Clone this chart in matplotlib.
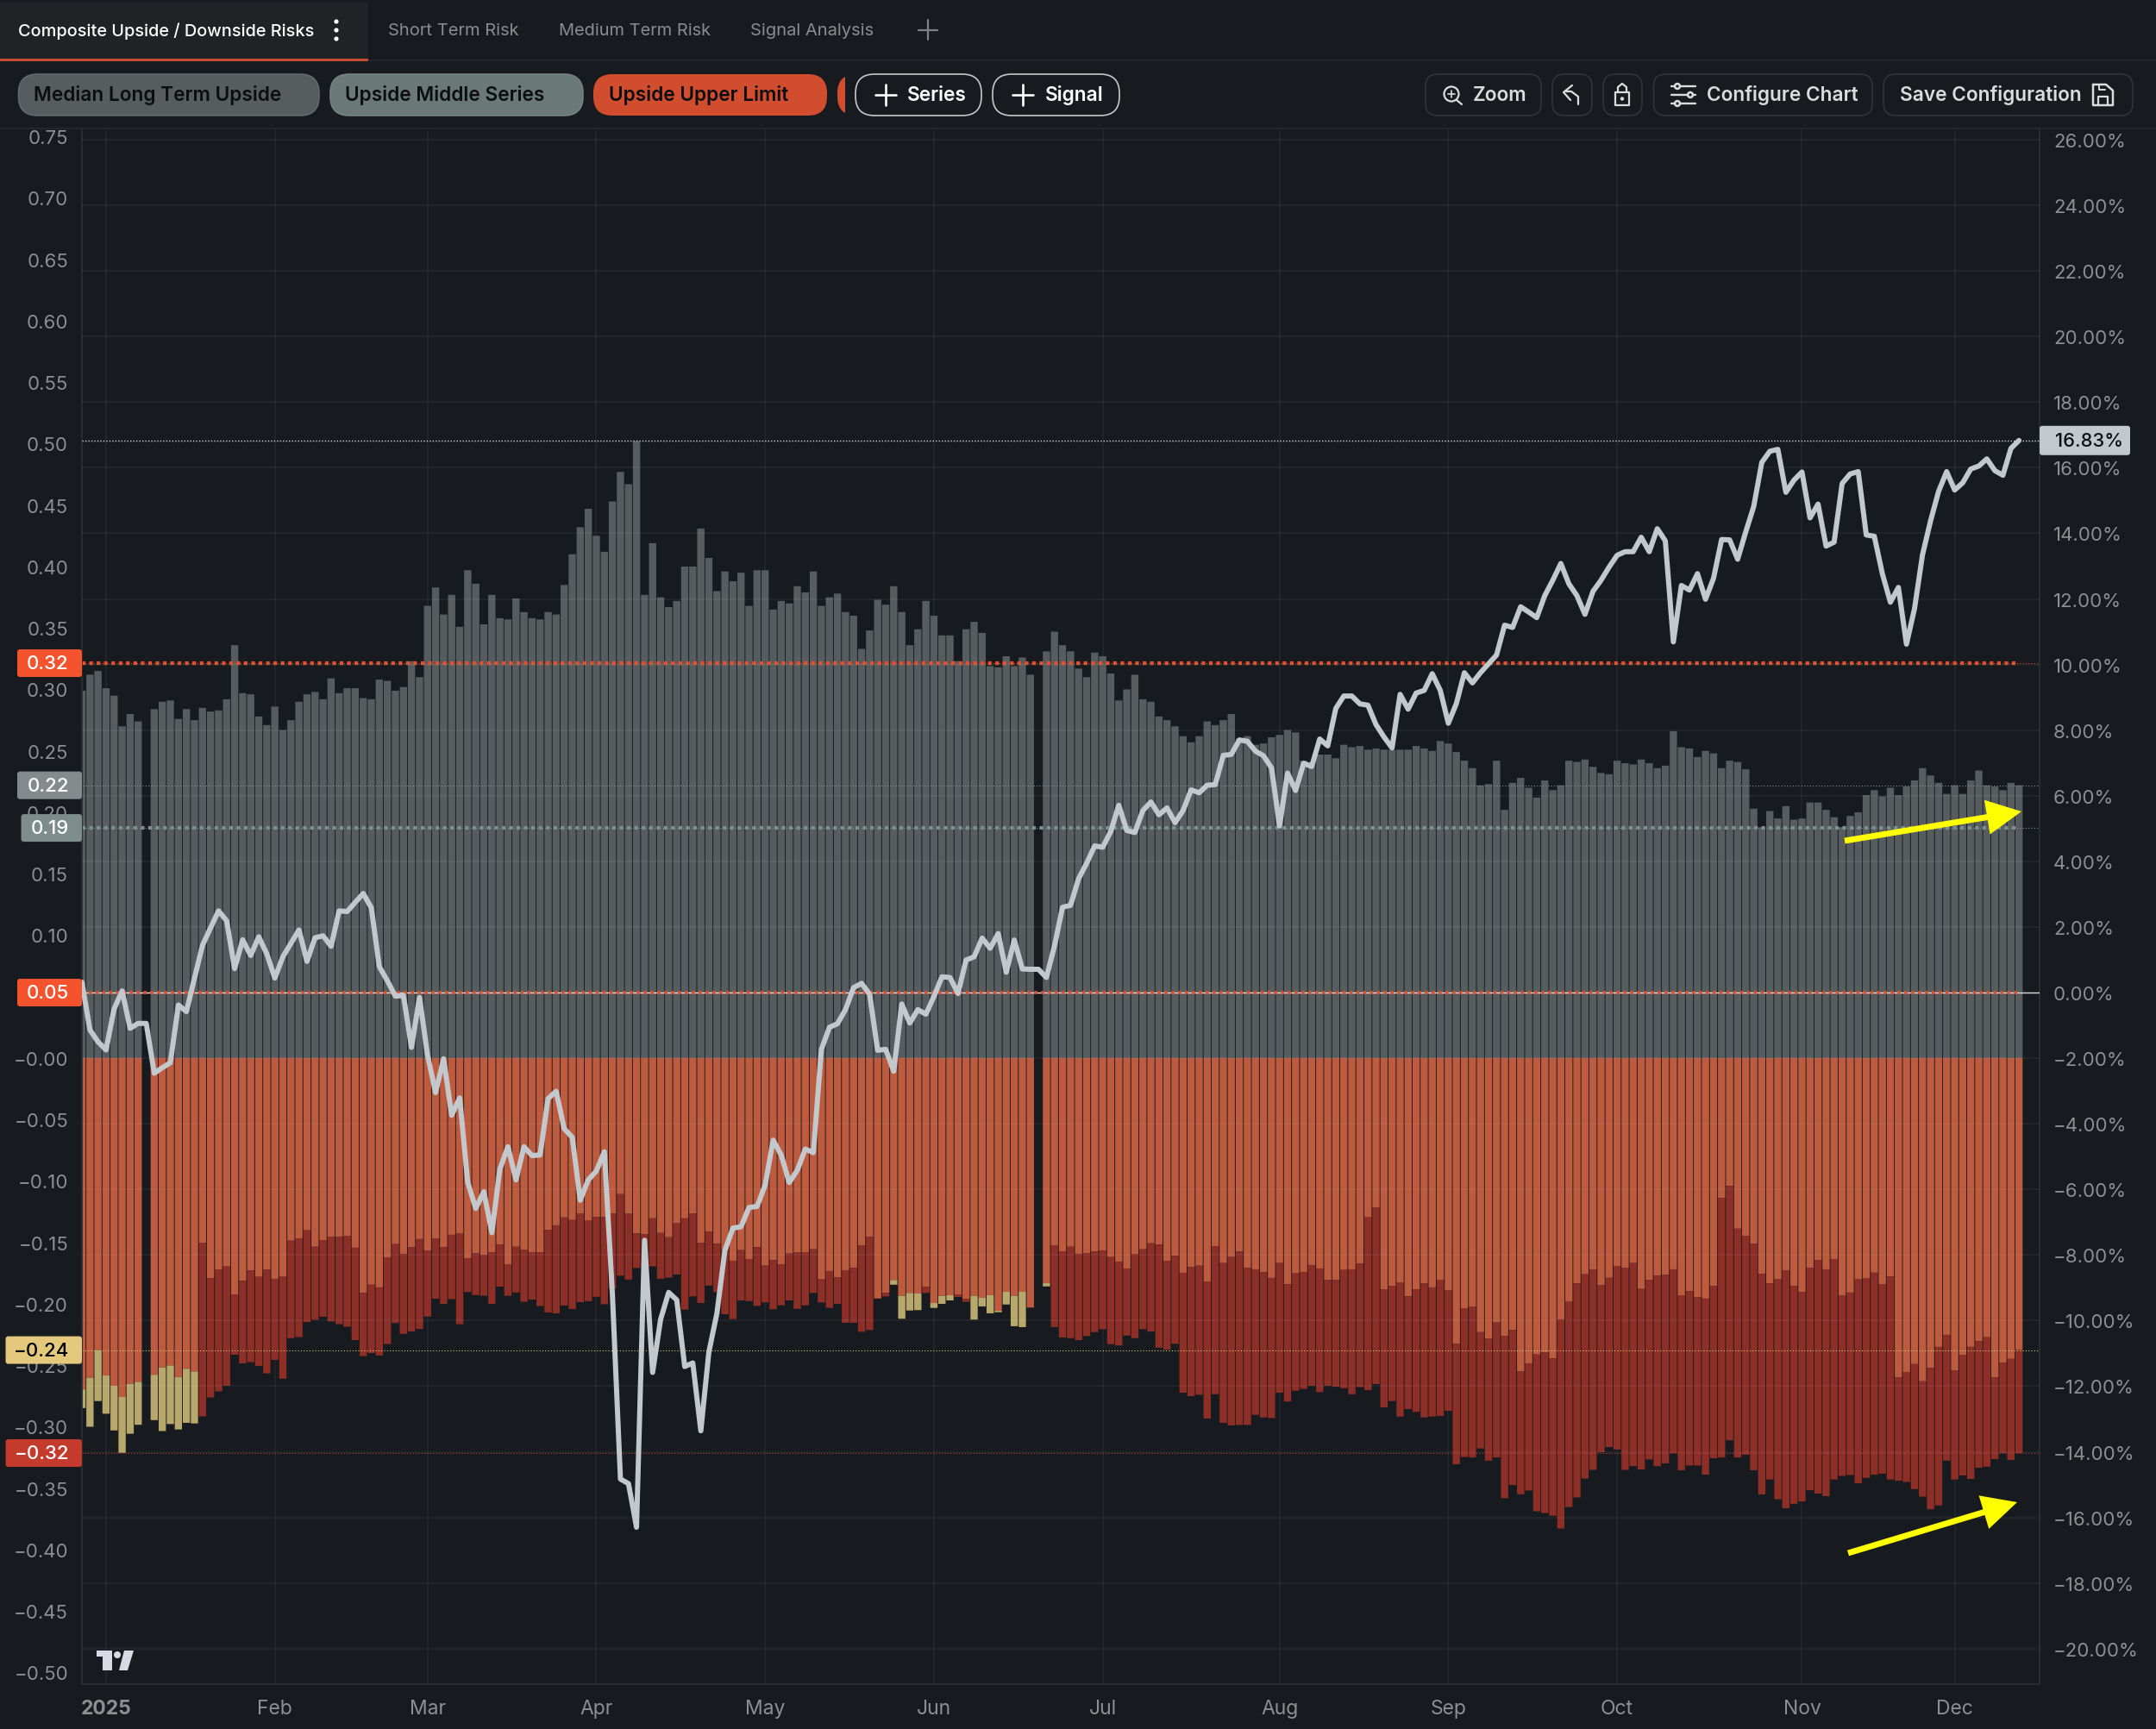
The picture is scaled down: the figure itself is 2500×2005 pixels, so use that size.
import numpy as np
import matplotlib
matplotlib.use("Agg")
import matplotlib.pyplot as plt
from matplotlib.patches import FancyBboxPatch, FancyArrowPatch, Rectangle, Circle, Polygon
from matplotlib.lines import Line2D
from matplotlib.transforms import IdentityTransform, Bbox

plt.rcParams['font.family'] = ['Inter', 'DejaVu Sans']

n = np.nan

# upper bars, left axis
gray_top = [
    .299, .312, .315, .301, .295, .270, .280, .274, n, .284,
    .290, .291, .276, .284, .275, .285, .282, .283, .292, .336,
    .297, .296, .278, .271, .286, .267, .275, .290, .296, .298,
    .292, .309, .297, .301, .301, .293, .292, .308, .307, .299,
    .302, .323, .310, .368, .383, .361, .377, .351, .397, .386,
    .353, .377, .358, .357, .374, .363, .358, .357, .363, .361,
    .385, .410, .432, .447, .425, .412, .453, .477, .467, .502,
    .377, .419, .375, .367, .372, .400, .400, .431, .407, .380,
    .396, .388, .395, .368, .397, .397, .365, .372, .370, .384,
    .379, .396, .368, .375, .378, .363, .360, .333, .348, .373,
    .369, .384, .363, .336, .349, .372, .360, .344, .344, .323,
    .349, .355, .346, .319, .318, .327, .319, .326, .312, n,
    .331, .347, .336, .331, .317, .310, .330, .327, .313, .291,
    .300, .312, .292, .290, .278, .275, .270, .262, .257, .262,
    .274, .271, .275, .280, .260, .262, .255, .256, .261, .263,
    .267, .265, .242, .241, .247, .247, .244, .255, .253, .254,
    .251, .252, .251, .251, .251, .251, .254, .252, .250, .258,
    .256, .249, .242, .236, .222, .223, .242, .202, .224, .228,
    .220, .212, .226, .218, .222, .242, .241, .243, .237, .232,
    .231, .242, .240, .239, .243, .240, .236, .238, .266, .253,
    .252, .245, .250, .248, .236, .242, .241, .235, .203, .188,
    .201, .195, .205, .194, .195, .208, .208, .202, .196, .188,
    .197, .200, .214, .218, .213, .220, .214, .221, .226, .236,
    .230, .224, .215, .222, .215, .226, .234, .222, .221, .218,
    .224, .222,
]

# orange bars go from zero down to here
orange_low = [
    -.2696, -.2601, -.2376, -.2582, -.2666, -.2758, -.2650, -.2634, n, -.2577,
    -.2517, -.2501, -.2596, -.2528, -.2550, -.1502, -.1790, -.1722, -.1696, -.1923,
    -.1812, -.1728, -.1780, -.1722, -.1796, -.1780, -.1486, -.1467, -.1402, -.1535,
    -.1481, -.1457, -.1454, -.1446, -.1543, -.1909, -.1844, -.1866, -.1621, -.1514,
    -.1595, -.1540, -.1473, -.1568, -.1470, -.1537, -.1438, -.1429, -.1628, -.1589,
    -.1600, -.1579, -.1516, -.1677, -.1535, -.1562, -.1579, -.1579, -.1397, -.1361,
    -.1297, -.1318, -.1267, -.1324, -.1294, -.1295, -.1267, -.1107, -.1267, -.1426,
    -.1435, -.1304, -.1423, -.1458, -.1345, -.1304, -.1266, -.1502, -.1413, -.1511,
    -.1561, -.1649, -.1563, -.1635, -.1539, -.1689, -.1644, -.1680, -.1591, -.1579,
    -.1579, -.1556, -.1801, -.1733, -.1783, -.1726, -.1707, -.1523, -.1453, -.1956,
    -.1911, -.1806, -.1935, -.1911, -.1916, -.1862, -.1993, -.1935, -.1930, -.1923,
    -.1960, -.1935, -.1951, -.1930, -.2056, -.1902, -.1935, -.1902, -.2030, n,
    -.1832, -.1523, -.1572, -.1535, -.1595, -.1586, -.1574, -.1565, -.1619, -.1656,
    -.1712, -.1593, -.1556, -.1507, -.1518, -.1649, -.1609, -.1747, -.1701, -.1689,
    -.1818, -.1530, -.1668, -.1619, -.1574, -.1707, -.1719, -.1743, -.1789, -.1668,
    -.1841, -.1752, -.1741, -.1684, -.1712, -.1806, -.1806, -.1724, -.1719, -.1673,
    -.1296, -.1214, -.1881, -.1853, -.1829, -.1939, -.1881, -.1834, -.1866, -.1808,
    -.1888, -.2325, -.2035, -.2025, -.2230, -.2281, -.2152, -.2260, -.2213, -.2551,
    -.2484, -.2412, -.2396, -.2444, -.2129, -.1983, -.1834, -.1759, -.1719, -.1846,
    -.1788, -.1691, -.1707, -.1668, -.1879, -.1804, -.1769, -.1762, -.1719, -.1934,
    -.1895, -.1947, -.1957, -.1856, -.1138, -.1041, -.1388, -.1446, -.1509, -.1755,
    -.1834, -.1801, -.1726, -.1853, -.1905, -.1707, -.1642, -.1719, -.1635, -.1934,
    -.1908, -.1801, -.1794, -.1746, -.1839, -.1778, -.2597, -.2558, -.2490, -.2630,
    -.2522, -.2350, -.2252, -.2541, -.2418, -.2350, -.2304, -.2272, -.2597, -.2477,
    -.2448, -.2376,
]

# bottom of the dark red part, nan where a bar has none
dark_low = [
    n, n, n, n, n, n, n, n, n, n,
    n, n, n, n, n, -.2916, -.2761, -.2712, -.2666, -.2414,
    -.2484, -.2474, -.2505, -.2566, -.2456, -.2609, -.2279, -.2270, -.2148, -.2129,
    -.2105, -.2143, -.2165, -.2186, -.2295, -.2425, -.2400, -.2420, -.2327, -.2156,
    -.2244, -.2224, -.2204, -.2103, -.1958, -.2000, -.1961, -.2165, -.1904, -.1928,
    -.1934, -.2000, -.1860, -.1934, -.1907, -.1983, -.1965, -.2018, -.2070, -.2077,
    -.2013, -.2042, -.1986, -.1978, -.1942, -.2003, -.1874, -.1771, -.1802, -.1708,
    -.1700, -.1695, -.1796, -.1786, -.1761, -.2046, -.1939, -.1993, -.1851, -.1904,
    -.2084, -.2124, -.1972, -.1977, -.2016, -.1988, -.2044, -.2012, -.1972, -.2040,
    -.2012, -.1911, -.1988, -.2033, -.2000, -.2154, -.2154, -.2227, -.2213, n,
    -.1939, n, n, n, n, -.1911, n, n, n, -.1944,
    -.1984, n, n, n, n, n, n, n, n, n,
    n, -.2189, -.2274, -.2279, -.2295, -.2262, -.2230, -.2206, -.2328, -.2339,
    -.2258, -.2279, -.2206, -.2225, -.2356, -.2372, -.2325, -.2723, -.2751, -.2739,
    -.2933, -.2735, -.2968, -.2989, -.2985, -.2985, -.2903, -.2924, -.2929, -.2723,
    -.2795, -.2706, -.2692, -.2667, -.2718, -.2667, -.2674, -.2686, -.2735, -.2678,
    -.2702, -.2653, -.2842, -.2791, -.2917, -.2856, -.2879, -.2924, -.2917, -.2912,
    -.2870, -.3305, -.3246, -.3250, -.3176, -.3276, -.3250, -.3581, -.3474, -.3549,
    -.3519, -.3688, -.3702, -.3724, -.3828, -.3653, -.3575, -.3422, -.3351, -.3207,
    -.3165, -.3185, -.3351, -.3321, -.3347, -.3266, -.3321, -.3298, -.3214, -.3354,
    -.3315, -.3315, -.3390, -.3256, -.3250, -.3110, -.3250, -.3227, -.3354, -.3551,
    -.3429, -.3590, -.3663, -.3627, -.3607, -.3516, -.3544, -.3565, -.3429, -.3400,
    -.3393, -.3460, -.3416, -.3390, -.3382, -.3429, -.3439, -.3449, -.3507, -.3568,
    -.3672, -.3640, -.3276, -.3429, -.3396, -.3425, -.3334, -.3325, -.3263, -.3214,
    -.3270, -.3214,
]

# bottom of the tan part, only a few bars have it
tan_low = [n] * 242
tan_bars = [0, 1, 2, 3, 4, 5, 6, 7, 9, 10, 11, 12, 13, 14,
            101, 102, 103, 104, 106, 107, 108, 111, 112, 113, 114, 115, 116, 117, 120]
tan_vals = [-.2848, -.3000, -.2791, -.2894, -.3030, -.3212, -.3057, -.2984, -.2946, -.3035,
            -.2978, -.3022, -.2968, -.2973,
            -.1844, -.2121, -.2054, -.2051, -.2033, -.2000, -.1972, -.2128, -.2021, -.2077,
            -.2068, -.2005, -.2182, -.2189, -.1858]
for b, v in zip(tan_bars, tan_vals):
    tan_low[b] = v

# white line, right axis in percent
line_pct = [
    0.32, -1.14, -1.50, -1.75, -0.50, 0.05, -1.09, -0.94, -0.94, -2.46,
    -2.29, -2.14, -0.38, -0.58, 0.44, 1.44, 1.97, 2.49, 2.19, 0.73,
    1.61, 1.13, 1.70, 1.18, 0.44, 1.09, 1.50, 1.91, 0.95, 1.67,
    1.73, 1.41, 2.49, 2.47, 2.75, 3.02, 2.59, 0.79, 0.36, -0.11,
    -0.09, -1.67, -0.15, -1.91, -3.05, -2.02, -3.74, -3.21, -5.79, -6.58,
    -6.07, -7.32, -5.38, -4.70, -5.71, -4.70, -4.97, -4.95, -3.23, -3.01,
    -4.15, -4.41, -6.33, -5.71, -5.44, -4.85, -9.20, -14.83, -14.97, -16.30,
    -7.55, -11.58, -9.96, -9.14, -9.37, -11.40, -11.29, -13.36, -10.96, -9.78,
    -7.85, -7.18, -7.14, -6.55, -6.52, -5.87, -4.50, -4.95, -5.79, -5.42,
    -4.77, -4.88, -1.73, -1.06, -0.95, -0.52, 0.15, 0.28, -0.05, -1.76,
    -1.73, -2.40, -0.35, -0.93, -0.52, -0.66, -0.12, 0.48, 0.46, -0.03,
    0.99, 1.09, 1.66, 1.35, 1.80, 0.62, 1.60, 0.72, 0.71, 0.71,
    0.46, 1.42, 2.60, 2.66, 3.47, 3.94, 4.47, 4.43, 4.91, 5.71,
    4.94, 4.88, 5.55, 5.81, 5.42, 5.63, 5.18, 5.55, 6.18, 6.09,
    6.32, 6.34, 7.23, 7.26, 7.70, 7.66, 7.36, 7.22, 6.85, 5.08,
    6.69, 6.16, 6.99, 6.89, 7.73, 7.52, 8.66, 9.04, 9.04, 8.80,
    8.76, 8.17, 7.79, 7.46, 9.09, 8.64, 9.13, 9.21, 9.72, 9.21,
    8.21, 8.81, 9.75, 9.44, 9.75, 10.02, 10.29, 11.20, 11.13, 11.76,
    11.60, 11.43, 12.10, 12.57, 13.08, 12.46, 12.10, 11.53, 12.23, 12.57,
    12.97, 13.33, 13.44, 13.44, 13.88, 13.44, 14.14, 13.77, 10.69, 12.41,
    12.27, 12.77, 11.99, 12.63, 13.81, 13.80, 13.21, 14.04, 14.82, 16.16,
    16.50, 16.56, 15.25, 15.62, 15.87, 14.47, 14.89, 13.61, 13.73, 15.52,
    15.81, 15.88, 13.95, 13.91, 12.77, 11.90, 12.35, 10.62, 11.70, 13.35,
    14.38, 15.28, 15.88, 15.32, 15.54, 15.96, 16.05, 16.27, 15.91, 15.77,
    16.59, 16.83,
]

month_pos = [3, 24, 43, 64, 85, 106, 127, 149, 170, 191, 214, 233]
month_lab = ['2025', 'Feb', 'Mar', 'Apr', 'May', 'Jun', 'Jul', 'Aug', 'Sep', 'Oct', 'Nov', 'Dec']
left_ticks = [round(.75 - .05 * k, 2) for k in range(26)]
right_ticks = list(range(-20, 28, 2))

BG = '#171b1f'
W, H = 2500, 2006


def fx(x):
    return x / W


def fy(y):
    return 1 - y / H


fig = plt.figure(figsize=(25, 20.06), dpi=100, facecolor=BG)
ax = fig.add_axes([fx(95), fy(1954), fx(2365 - 95), (1954 - 152) / H], facecolor=BG)
ax2 = ax.twinx()

x = np.arange(242)
gray_top = np.array(gray_top)
orange_low = np.array(orange_low)
dark_low = np.array(dark_low)
tan_low = np.array(tan_low)

w = 0.9
ax.bar(x, gray_top, width=w, color='#575c5f', zorder=2, snap=False)
ax.bar(x, orange_low, width=w, color='#be5a3d', zorder=2, snap=False)
ax.bar(x, dark_low - orange_low, bottom=orange_low, width=w, color='#8d2e27', zorder=2, snap=False)
ax.bar(x, tan_low - orange_low, bottom=orange_low, width=w, color='#b8a86c', zorder=2, snap=False)

ax.set_xlim(0, (2365 - 95) / 9.32)
ax.set_ylim((1228 - 1954) / 1425, (1228 - 152) / 1425)
ax2.set_ylim((1152 - 1954) / 38.04, (1152 - 152) / 38.04)

ax.set_xticks(month_pos)
ax.set_xticklabels(month_lab)
ax.set_yticks(left_ticks)
ax.set_yticklabels([('%.2f' % v).replace('-', '\u2212') if v > 0 else '\u2212%.2f' % abs(v) for v in left_ticks])
ax2.set_yticks(right_ticks)
ax2.set_yticklabels([('%.2f%%' % v).replace('-', '\u2212') for v in right_ticks])

ax.tick_params(axis='x', length=0, labelsize=16.5, labelcolor='#8d8f91', pad=12.5)
ax.tick_params(axis='y', length=0, labelsize=16, labelcolor='#8d8f91', pad=11.5)
ax2.tick_params(axis='y', length=0, labelsize=16, labelcolor='#8d8f91', pad=11.5)
ax.get_xticklabels()[0].set_fontweight('bold')

# grid comes from the right axis, plus the month lines
ax2.grid(axis='y', color='#ffffff', alpha=0.06, lw=1.1)
for m in month_pos:
    ax.axvline(m, color='#ffffff', alpha=0.06, lw=1.1, zorder=1)
for a in (ax, ax2):
    for s in a.spines.values():
        s.set_color('#2a2e32')
        s.set_linewidth(1.2)
    a.spines['top'].set_visible(False)
    a.set_axisbelow(False)

# level lines
last = x[-1]
ax.plot([0, ax.get_xlim()[1]], [.3214, .3214], color='#e2502f', lw=0.8, ls=(0, (1, 2)), zorder=3)
ax.plot([0, last], [.3214, .3214], color='#e2502f', lw=3, ls=(0, (1, 1.05)), zorder=3)
ax.plot([0, ax.get_xlim()[1]], [.1873, .1873], color='#7f8d8c', lw=0.8, ls=(0, (1, 2)), zorder=3)
ax.plot([0, last], [.1873, .1873], color='#7f8d8c', lw=3, ls=(0, (1, 1.05)), zorder=3)
ax.axhline(.222, color='#8a8f92', lw=0.8, ls=(0, (1, 2)), zorder=3)
ax.axhline(-.2376, color='#e4c87c', lw=0.8, ls=(0, (1, 2)), zorder=3)
ax.axhline(-.3214, color='#c43a2c', lw=0.8, ls=(0, (1, 2)), zorder=3)
ax2.axhline(0, color='#d8d8d8', lw=1.0, zorder=3)
ax2.plot([0, last], [0, 0], color='#e2502f', lw=2.6, ls=(0, (1, 1.2)), zorder=3)
ax2.axhline(16.83, color='#d5d8da', lw=1.0, ls=(0, (1, 1.5)), zorder=3)

ax2.plot(x, line_pct, color='#c3c8cc', lw=4.3, solid_joinstyle='round', solid_capstyle='round', zorder=4)

PIX = IdentityTransform()


def box(x0, y0, x1, y1, fc, ec='none', r=12, lw=1.2, z=5):
    p = FancyBboxPatch((x0, H - y1), x1 - x0, y1 - y0, boxstyle='round,pad=0,rounding_size=%g' % r,
                       fc=fc, ec=ec, lw=lw, transform=PIX, zorder=z)
    fig.add_artist(p)
    return p


def txt(x0, y0, s, color='#dcdcdc', size=15, weight='medium', ha='left'):
    fig.text(fx(x0), fy(y0), s, color=color, fontsize=size, fontweight=weight, ha=ha, va='center', zorder=6)


def seg(points, color='#dcdcdc', lw=1.6):
    xs = [p[0] for p in points]
    ys = [H - p[1] for p in points]
    fig.add_artist(Line2D(xs, ys, color=color, lw=lw, transform=PIX, zorder=6, solid_capstyle='round'))


def dot(cx, cy, r, color='#dcdcdc'):
    fig.add_artist(Circle((cx, H - cy), r, fc=color, ec='none', transform=PIX, zorder=7))


# flags on the axes
def flag(y, s, fc, tc, x0):
    box(x0, y - 16, 95, y + 16, fc, r=3)
    txt(80, y, s, color=tc, size=16, weight='medium', ha='right')


for val, s, fc, tc, x0 in [(.3214, '0.32', '#f4532e', '#ffffff', 20),
                           (.222, '0.22', '#858a8d', '#ffffff', 20),
                           (.1873, '0.19', '#7e8c8b', '#ffffff', 24.5),
                           (.0533, '0.05', '#f4532e', '#ffffff', 20),
                           (-.2376, '\u22120.24', '#e4c87c', '#000000', 6.5),
                           (-.3214, '\u22120.32', '#c43a2c', '#ffffff', 6.5)]:
    flag(1228 - val * 1425, s, fc, tc, x0)
ypct = 1152 - 16.83 * 38.04
box(2365, ypct - 17, 2470, ypct + 17, '#c3c8cc', r=3)
txt(2383, ypct, '16.83%', color='#0d1012', size=15.8)

# yellow arrows
for a, b in [((2139, 976), (2344, 942)), ((2143, 1802), (2339, 1743))]:
    fig.add_artist(FancyArrowPatch((a[0], H - a[1]), (b[0], H - b[1]), transform=PIX,
                                   arrowstyle='simple,head_length=29,head_width=29,tail_width=5',
                                   mutation_scale=1, color='#ffff00', lw=0, shrinkA=0, shrinkB=0, zorder=6))

# header bars
fig.add_artist(Rectangle((0, H - 70), 427, 67, fc='#1f2326', ec='none', transform=PIX, zorder=1))
fig.add_artist(Rectangle((0, H - 72), 427, 3, fc='#c44f30', ec='none', transform=PIX, zorder=2))
for yy in (71, 150):
    fig.add_artist(Line2D([0, W], [H - yy, H - yy], color='#23272a', lw=1.6, transform=PIX, zorder=1))

txt(21, 36, 'Composite Upside / Downside Risks', color='#ffffff', size=14.35)
for dy in (26, 36, 46):
    dot(390, dy, 2.6, '#ffffff')
txt(450, 36, 'Short Term Risk', color='#8a8c8e', size=14.5, weight='normal')
txt(648, 36, 'Medium Term Risk', color='#8a8c8e', size=14.4, weight='normal')
txt(870, 36, 'Signal Analysis', color='#8a8c8e', size=14.5, weight='normal')
seg([(1076, 24), (1076, 47)], color='#808284', lw=1.6)
seg([(1065, 36), (1087, 36)], color='#808284', lw=1.6)

# chips
box(21.5, 87, 370, 135, '#575c5f', ec='#63686b', r=22)
box(383, 87, 676, 135, '#6a7876', ec='#748280', r=22)
box(688, 87, 959, 135, '#d14d2e', r=22)
stub = box(971, 87, 1040, 135, '#d14d2e', r=22)
stub.set_clip_box(Bbox([[971, H - 135], [980, H - 87]]))
box(992, 87, 1138, 135, 'none', ec='#c8c8c8', r=22)
box(1151, 87, 1298, 135, 'none', ec='#c8c8c8', r=22)
txt(39, 111, 'Median Long Term Upside', color='#0b0d0e', size=16.3, weight='semibold')
txt(400, 111, 'Upside Middle Series', color='#0b0d0e', size=16.3, weight='semibold')
txt(706, 111, 'Upside Upper Limit', color='#0b0d0e', size=16.3, weight='semibold')
for cx, tx, s in [(1027, 1052, 'Series'), (1186, 1212, 'Signal')]:
    seg([(cx, 99), (cx, 123)], color='#ffffff', lw=1.9)
    seg([(cx - 12, 111), (cx + 12, 111)], color='#ffffff', lw=1.9)
    txt(tx, 111, s, color='#ffffff', size=16.3, weight='semibold')

# right hand buttons
for x0, x1 in [(1653, 1787), (1800, 1846), (1859, 1904), (1917.5, 2171), (2184, 2473)]:
    box(x0, 87, x1, 135, 'none', ec='#30343a', r=14)
txt(1708, 111, 'Zoom', size=16.3, weight='semibold')
txt(1979, 111, 'Configure Chart', size=16.3, weight='semibold')
txt(2203, 111, 'Save Configuration', size=16.3, weight='semibold')

# small icons
fig.add_artist(Circle((1683, H - 110), 8.5, fc='none', ec='#dcdcdc', lw=1.6, transform=PIX, zorder=6))
seg([(1689, 117), (1695, 122)])
seg([(1683, 106), (1683, 114)], lw=1.2)
seg([(1679, 110), (1687, 110)], lw=1.2)
seg([(1830, 122), (1830, 113), (1822, 107), (1816, 107)])
seg([(1823, 100), (1813, 108), (1821, 117)])
seg([(1873, 108), (1889, 108), (1889, 123), (1873, 123), (1873, 108)])
seg([(1876, 108), (1876, 102), (1881, 98), (1886, 102), (1886, 108)])
dot(1881, 115.5, 2.2)
for yy, cx in [(101, 1945), (111, 1960), (121, 1945)]:
    seg([(1938, yy), (1966, yy)], lw=1.7)
    dot(cx, yy, 4.2)
    dot(cx, yy, 1.6, BG)
seg([(2427, 99), (2442, 99), (2450, 106), (2450, 123), (2427, 123), (2427, 99)], lw=1.8)
seg([(2433, 123), (2433, 113), (2444, 113), (2444, 123)], lw=1.6)
seg([(2434, 99), (2434, 105), (2441, 105)], lw=1.4)

# logo
logo = '#d8d9e4'
fig.add_artist(Polygon([(112, H - 1915), (130, H - 1915), (130, H - 1938), (119, H - 1938),
                        (119, H - 1922), (112, H - 1922)], fc=logo, ec='none', transform=PIX, zorder=6))
fig.add_artist(Polygon([(144, H - 1915), (155, H - 1915), (148, H - 1938), (138, H - 1938)],
                       fc=logo, ec='none', transform=PIX, zorder=6))
dot(136, 1920, 4, logo)

fig.savefig('out.png', dpi=100, facecolor=BG)
